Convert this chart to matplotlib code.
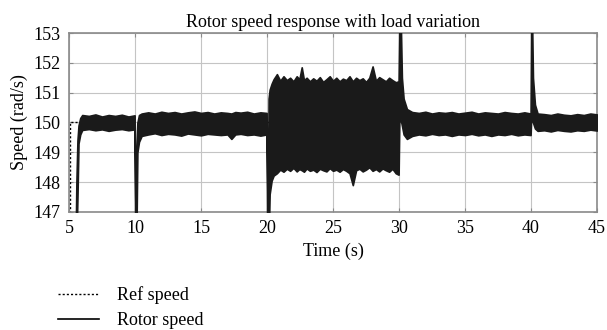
import matplotlib
matplotlib.use("Agg")
import matplotlib.pyplot as plt
from matplotlib.lines import Line2D

# reference speed (step at t = 5 s)
ref_t = [5.05, 5.05, 45.0]
ref_speed = [146.0, 150.0, 150.0]

# rotor speed: upper / lower edges of the oscillation band
t_env = [
    5.00, 5.50, 5.56, 5.64, 5.72, 5.85, 6.0, 6.5, 7.0, 7.5, 8.0, 8.5, 9.0, 9.5, 9.97,
    10.02, 10.06, 10.10, 10.18, 10.3, 10.5, 11.0, 11.5, 12.0, 12.5, 13.0, 13.5, 14.0,
    14.5, 15.0, 15.5, 16.0, 16.5, 17.0, 17.3, 17.6, 18.0, 18.5, 19.0, 19.5, 19.97,
    20.02, 20.06, 20.12, 20.2, 20.35, 20.5, 20.75, 21.0, 21.25, 21.5, 21.75, 22.0, 22.25,
    22.45, 22.63, 22.8, 23.0, 23.25, 23.5, 23.75, 24.0, 24.25, 24.5, 24.75, 25.0, 25.25,
    25.5, 25.75, 26.0, 26.25, 26.5, 26.75, 27.0, 27.25, 27.5, 27.75, 28.0, 28.25, 28.5,
    28.75, 29.0, 29.25, 29.5, 29.75, 29.97,
    30.03, 30.13, 30.22, 30.35, 30.6, 31.0, 31.5, 32.0, 32.5, 33.0, 33.5, 34.0, 34.5,
    35.0, 35.5, 36.0, 36.5, 37.0, 37.5, 38.0, 38.5, 39.0, 39.5, 39.97,
    40.02, 40.08, 40.15, 40.3, 40.5, 41.0, 41.5, 42.0, 42.5, 43.0, 43.5, 44.0, 44.5, 45.0,
]
upper = [
    146.0, 146.0, 148.0, 149.4, 149.9, 150.15, 150.25, 150.22, 150.27, 150.2, 150.25, 150.22, 150.26, 150.2, 150.24,
    147.5, 146.0, 149.0, 150.0, 150.25, 150.3, 150.34, 150.3, 150.36, 150.32, 150.35, 150.3, 150.34,
    150.37, 150.32, 150.35, 150.3, 150.34, 150.32, 150.3, 150.35, 150.33, 150.36, 150.3, 150.34, 150.32,
    148.0, 146.0, 150.8, 151.1, 151.3, 151.45, 151.62, 151.4, 151.55, 151.42, 151.5, 151.38, 151.55,
    151.45, 151.85, 151.42, 151.5, 151.38, 151.48, 151.4, 151.52, 151.36, 151.45, 151.55, 151.4, 151.5,
    151.38, 151.47, 151.42, 151.55, 151.38, 151.5, 151.42, 151.48, 151.36, 151.5, 151.88, 151.4, 151.52,
    151.45, 151.38, 151.5, 151.42, 151.35, 151.38,
    153.5, 153.5, 151.5, 150.8, 150.45, 150.35, 150.32, 150.36, 150.3, 150.34, 150.32, 150.35, 150.3,
    150.33, 150.36, 150.3, 150.34, 150.32, 150.3, 150.35, 150.32, 150.3, 150.34, 150.3,
    153.5, 153.5, 151.5, 150.6, 150.3, 150.28, 150.25, 150.3, 150.26, 150.24, 150.28, 150.25, 150.3, 150.27,
]
lower = [
    146.0, 146.0, 146.0, 147.5, 149.3, 149.6, 149.75, 149.78, 149.74, 149.77, 149.72, 149.76, 149.78, 149.74, 149.77,
    146.0, 146.0, 146.0, 149.0, 149.35, 149.55, 149.6, 149.64, 149.58, 149.62, 149.6, 149.56, 149.63,
    149.6, 149.57, 149.62, 149.6, 149.58, 149.6, 149.45, 149.6, 149.62, 149.58, 149.6, 149.56, 149.6,
    146.0, 146.0, 146.0, 147.6, 148.05, 148.22, 148.3, 148.42, 148.35, 148.45, 148.38, 148.48, 148.36,
    148.44, 148.4, 148.35, 148.46, 148.38, 148.42, 148.34, 148.45, 148.4, 148.36, 148.47, 148.38, 148.42,
    148.35, 148.44, 148.38, 148.3, 147.9, 148.4, 148.45, 148.36, 148.42, 148.5, 148.38, 148.44, 148.36,
    148.46, 148.4, 148.35, 148.45, 148.3, 148.25,
    150.2, 150.1, 149.9, 149.6, 149.45, 149.55, 149.6, 149.57, 149.62, 149.58, 149.6, 149.55, 149.6,
    149.58, 149.62, 149.57, 149.6, 149.55, 149.6, 149.58, 149.62, 149.57, 149.6, 149.58,
    150.2, 150.1, 150.0, 149.8, 149.72, 149.74, 149.7, 149.75, 149.72, 149.7, 149.74, 149.72, 149.76, 149.73,
]

plt.rcParams["font.family"] = ["Liberation Serif", "DejaVu Serif"]
plt.rcParams["font.size"] = 13

fig = plt.figure(figsize=(6.07, 3.30), dpi=100)
ax = fig.add_axes([0.1137, 0.3576, 0.8698, 0.5424])

ax.plot(ref_t, ref_speed, color="black", linestyle=(0, (1.5, 1.5)), linewidth=1.0, zorder=2)
ax.fill_between(t_env, lower, upper, color="#1a1a1a", linewidth=1.2, edgecolor="#1a1a1a", zorder=3)

ax.set_xlim(5, 45)
ax.set_ylim(147, 153)
ax.set_xticks(range(5, 46, 5))
ax.set_yticks(range(147, 154))
ax.grid(color="#c4c4c4", linewidth=0.8)
ax.set_axisbelow(True)
for s in ax.spines.values():
    s.set_color("#8a8a8a")
    s.set_linewidth(1.2)
ax.tick_params(direction="in", length=3, color="#8a8a8a", top=True, right=True, pad=6)

ax.set_title("Rotor speed response with load variation", fontsize=13, pad=4)
ax.set_xlabel("Time (s)", labelpad=4)
ax.set_ylabel("Speed (rad/s)", labelpad=4)

handles = [
    Line2D([], [], color="black", linestyle=(0, (1.5, 1.5)), linewidth=1.0),
    Line2D([], [], color="black", linewidth=1.2),
]
fig.legend(handles, ["Ref speed", "Rotor speed"], loc="upper left",
           bbox_to_anchor=(0.083, 0.155), frameon=False, handlelength=2.3,
           handletextpad=1.0, labelspacing=0.45, fontsize=13, borderaxespad=0)

fig.savefig("out.png", dpi=100)
